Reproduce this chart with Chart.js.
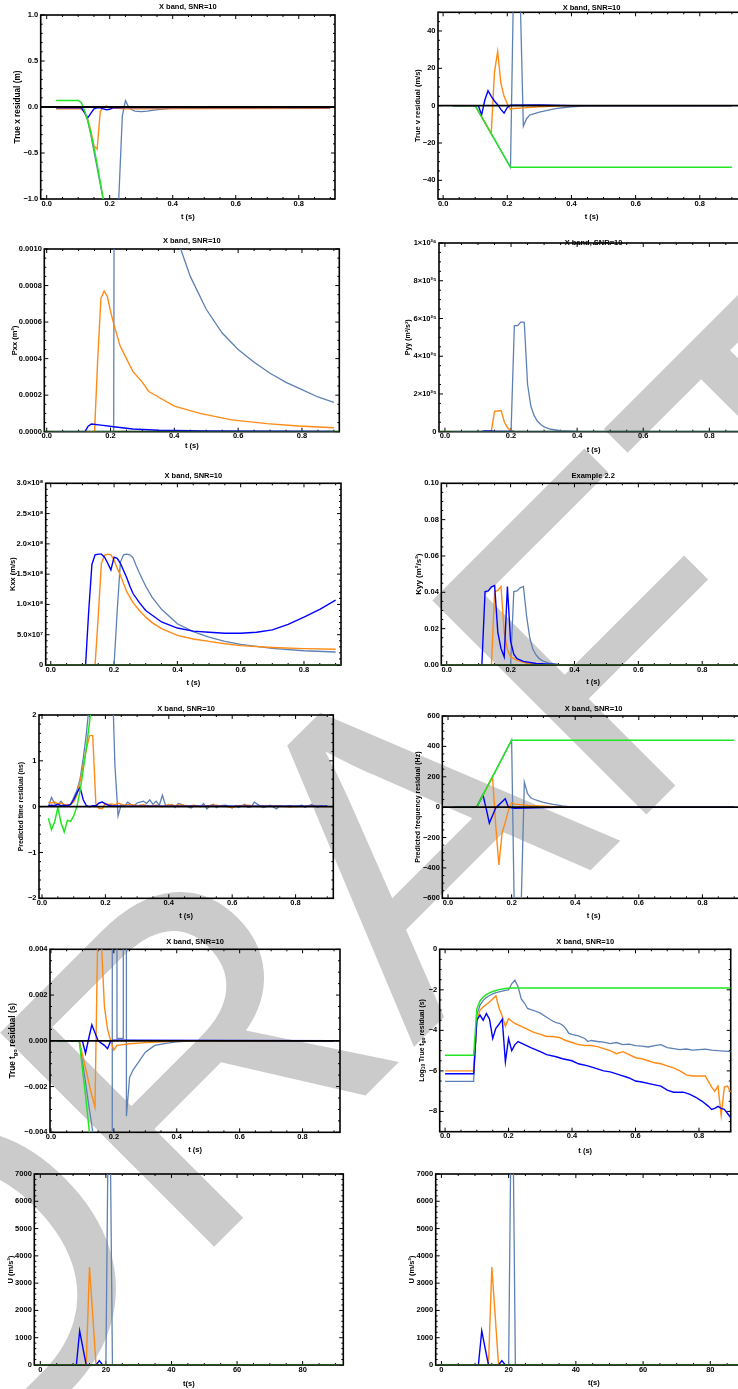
<!DOCTYPE html>
<html>
<head>
<meta charset="utf-8">
<script src="https://cdn.jsdelivr.net/npm/chart.js@4.4.1/dist/chart.umd.min.js"></script>
<style>
  html, body { margin: 0; padding: 0; background: #fff; }
  body { width: 738px; height: 1389px; position: relative; overflow: hidden; }
  #wm { position: absolute; left: 0; top: 0; z-index: 0; }
  .panel { position: absolute; z-index: 1; }
</style>
</head>
<body>
<canvas id="wm" width="738" height="1389"></canvas>
<script>
// Tracking-filter residuals, 6 x 2 grid of Chart.js line panels
// CANVAS: 738 x 1389

// ---- shared axis ticks ----
const T_TICKS = [0, 0.2, 0.4, 0.6, 0.8];
const T_TICK_LABELS = ['0.0', '0.2', '0.4', '0.6', '0.8'];
const U_T_TICKS = [0, 20, 40, 60, 80];
const U_T_TICK_LABELS = ['0', '20', '40', '60', '80'];

// ---- panel 1: true x residual (m) ----
const XRES_Y_TICKS = [-1, -0.5, 0, 0.5, 1];
const XRES_Y_LABELS = ['−1.0', '−0.5', '0.0', '0.5', '1.0'];
const XRES_BLUE = [[0.03,-0.01],[0.11,-0.01],[0.12,-0.06],[0.13,-0.12],[0.14,-0.07],[0.15,-0.02],[0.16,-0.01],[0.17,-0.01],[0.18,-0.02],[0.19,-0.03],[0.20,-0.025],[0.21,-0.01],[0.25,-0.005],[0.9,-0.005]];
const XRES_ORANGE = [[0.03,-0.02],[0.11,-0.02],[0.12,-0.06],[0.13,-0.13],[0.14,-0.26],[0.15,-0.42],[0.16,-0.46],[0.17,-0.05],[0.18,0.0],[0.19,0.01],[0.20,-0.01],[0.25,-0.02],[0.9,-0.015]];
const XRES_STEEL = [[0.03,-0.01],[0.11,-0.01],[0.12,-0.05],[0.13,-0.15],[0.14,-0.3],[0.15,-0.48],[0.16,-0.66],[0.17,-0.84],[0.18,-1.02],[0.19,-1.2],[0.20,-1.4],[0.21,-1.6],[0.22,-1.6],[0.23,-0.9],[0.24,-0.1],[0.25,0.07],[0.26,0.0],[0.27,-0.03],[0.28,-0.045],[0.30,-0.05],[0.32,-0.045],[0.34,-0.035],[0.36,-0.025],[0.38,-0.02],[0.40,-0.01],[0.9,-0.01]];
const XRES_GREEN = [[0.03,0.07],[0.10,0.07],[0.11,0.05],[0.12,-0.04],[0.13,-0.14],[0.14,-0.28],[0.15,-0.44],[0.16,-0.62],[0.17,-0.81],[0.18,-1.01],[0.19,-1.22]];

// ---- panel 2: true v residual (m/s) ----
const VRES_Y_TICKS = [-40, -20, 0, 20, 40];
const VRES_Y_LABELS = ['−40', '−20', '0', '20', '40'];
const VRES_BLUE = [[0.03,0],[0.11,0],[0.12,-5],[0.13,3],[0.14,8],[0.15,5],[0.16,2.5],[0.17,0.5],[0.18,-2],[0.19,-4],[0.20,-1],[0.21,0.3],[0.3,0.4],[0.4,0],[0.9,0]];
const VRES_ORANGE = [[0.03,0],[0.10,0],[0.11,-3],[0.12,-6],[0.13,-9],[0.14,-12],[0.15,-15],[0.16,18],[0.17,29],[0.18,12],[0.19,5],[0.20,1],[0.21,-2],[0.22,-1.5],[0.25,-1.2],[0.3,-0.6],[0.35,-0.2],[0.4,0],[0.9,0]];
const VRES_STEEL = [[0.03,0],[0.10,0],[0.21,-33],[0.22,70],[0.23,90],[0.24,60],[0.25,-11],[0.26,-7],[0.27,-5],[0.28,-4.5],[0.3,-3.5],[0.35,-1.6],[0.4,-0.6],[0.45,-0.1],[0.9,0]];
const VRES_GREEN = [[0.03,0],[0.10,0],[0.21,-33],[0.9,-33]];

// ---- panel 3: Pxx (m^2) ----
const PXX_Y_TICKS = [0, 0.0002, 0.0004, 0.0006, 0.0008, 0.001];
const PXX_Y_LABELS = ['0.0000', '0.0002', '0.0004', '0.0006', '0.0008', '0.0010'];
const PXX_BLUE = [[0.02,0],[0.12,0],[0.13,0.00003],[0.14,0.000042],[0.17,0.000036],[0.21,0.000027],[0.27,0.000015],[0.35,0.000008],[0.5,0.000004],[0.9,0.000002]];
const PXX_ORANGE = [[0.02,0],[0.15,0],[0.16,0.0004],[0.17,0.00073],[0.18,0.00077],[0.19,0.00074],[0.20,0.00066],[0.21,0.00059],[0.23,0.00047],[0.25,0.0004],[0.27,0.00033],[0.30,0.00027],[0.32,0.00022],[0.35,0.00019],[0.40,0.00014],[0.48,0.0001],[0.58,0.000065],[0.69,0.000044],[0.79,0.000031],[0.9,0.000022]];
const PXX_STEEL = [[0.02,0],[0.21,0],[0.22,0.01],[0.30,0.003],[0.35,0.0018],[0.40,0.0012],[0.42,0.001],[0.45,0.00085],[0.50,0.00067],[0.55,0.00054],[0.60,0.00045],[0.65,0.00038],[0.70,0.00032],[0.75,0.00027],[0.80,0.00023],[0.85,0.00019],[0.9,0.00016]];

// ---- panel 4: Pyy (m^2/s^2) ----
const PYY_Y_TICKS = [0, 2e25, 4e25, 6e25, 8e25, 1e26];
const PYY_Y_LABELS = ['0', '2×10²⁵', '4×10²⁵', '6×10²⁵', '8×10²⁵', '1×10²⁶'];
const PYY_BLUE = [[0.02,0],[0.11,0],[0.12,0.04e25],[0.14,0.04e25],[0.15,0.01e25],[0.19,0.01e25],[0.20,0.03e25],[0.21,0],[0.9,0]];
const PYY_ORANGE = [[0.02,0],[0.14,0],[0.15,1.08e25],[0.16,1.1e25],[0.17,1.12e25],[0.18,0.5e25],[0.19,0.2e25],[0.20,0.06e25],[0.21,0],[0.9,0]];
const PYY_STEEL = [[0.02,0],[0.20,0],[0.21,5.62e25],[0.22,5.62e25],[0.23,5.82e25],[0.24,5.8e25],[0.25,2.5e25],[0.26,1.35e25],[0.27,0.85e25],[0.28,0.55e25],[0.29,0.38e25],[0.30,0.26e25],[0.32,0.13e25],[0.35,0.05e25],[0.40,0.01e25],[0.9,0]];

// ---- panel 5: Kxx (m/s) ----
const KXX_Y_TICKS = [0, 5e7, 1e8, 1.5e8, 2e8, 2.5e8, 3e8];
const KXX_Y_LABELS = ['0', '5.0×10⁷', '1.0×10⁸', '1.5×10⁸', '2.0×10⁸', '2.5×10⁸', '3.0×10⁸'];
const KXX_BLUE = [[0.02,0],[0.11,0],[0.12,0.9e8],[0.13,1.66e8],[0.14,1.82e8],[0.15,1.83e8],[0.16,1.83e8],[0.17,1.78e8],[0.18,1.68e8],[0.19,1.57e8],[0.20,1.78e8],[0.21,1.76e8],[0.22,1.68e8],[0.23,1.56e8],[0.24,1.44e8],[0.25,1.3e8],[0.26,1.18e8],[0.28,1.03e8],[0.30,0.9e8],[0.35,0.71e8],[0.40,0.61e8],[0.45,0.56e8],[0.50,0.54e8],[0.55,0.525e8],[0.60,0.525e8],[0.65,0.54e8],[0.70,0.58e8],[0.75,0.67e8],[0.80,0.79e8],[0.85,0.92e8],[0.9,1.07e8]];
const KXX_ORANGE = [[0.02,0],[0.14,0],[0.15,0.8e8],[0.16,1.68e8],[0.17,1.81e8],[0.18,1.83e8],[0.19,1.82e8],[0.20,1.73e8],[0.21,1.6e8],[0.22,1.48e8],[0.24,1.21e8],[0.26,1.03e8],[0.28,0.9e8],[0.30,0.79e8],[0.32,0.7e8],[0.35,0.6e8],[0.40,0.49e8],[0.45,0.43e8],[0.50,0.39e8],[0.55,0.35e8],[0.60,0.32e8],[0.70,0.29e8],[0.80,0.27e8],[0.9,0.26e8]];
const KXX_STEEL = [[0.02,0],[0.20,0],[0.21,0.9e8],[0.22,1.7e8],[0.23,1.82e8],[0.24,1.83e8],[0.25,1.82e8],[0.26,1.77e8],[0.27,1.64e8],[0.28,1.52e8],[0.30,1.3e8],[0.32,1.12e8],[0.35,0.92e8],[0.40,0.68e8],[0.45,0.55e8],[0.50,0.46e8],[0.55,0.39e8],[0.60,0.34e8],[0.70,0.275e8],[0.80,0.235e8],[0.9,0.215e8]];

// ---- panel 6: Kyy (m^2/s^2) ----
const KYY_Y_TICKS = [0, 0.02, 0.04, 0.06, 0.08, 0.1];
const KYY_Y_LABELS = ['0.00', '0.02', '0.04', '0.06', '0.08', '0.10'];
const KYY_BLUE = [[0.02,0],[0.11,0],[0.12,0.0404],[0.13,0.0408],[0.14,0.043],[0.15,0.0437],[0.16,0.018],[0.17,0.009],[0.18,0.0045],[0.19,0.0432],[0.20,0.013],[0.21,0.006],[0.22,0.0035],[0.24,0.002],[0.28,0.0008],[0.35,0.0002],[0.40,0],[0.9,0]];
const KYY_ORANGE = [[0.02,0],[0.14,0],[0.15,0.0404],[0.16,0.041],[0.17,0.0432],[0.18,0.018],[0.19,0.0085],[0.20,0.0045],[0.22,0.0025],[0.25,0.001],[0.30,0.0002],[0.35,0],[0.9,0]];
const KYY_STEEL = [[0.02,0],[0.20,0],[0.21,0.0404],[0.22,0.0408],[0.23,0.0425],[0.24,0.0432],[0.25,0.027],[0.26,0.015],[0.27,0.0085],[0.28,0.0055],[0.29,0.0035],[0.30,0.0023],[0.32,0.001],[0.35,0.0003],[0.40,0],[0.9,0]];

// ---- panel 7: predicted time residual (ns) ----
const TRES_Y_TICKS = [-2, -1, 0, 1, 2];
const TRES_Y_LABELS = ['−2', '−1', '0', '1', '2'];
const TRES_BLUE = [[0.02,0.02],[0.03,0.03],[0.04,0.02],[0.05,0.05],[0.06,0.02],[0.07,0.03],[0.08,0.02],[0.09,0.05],[0.10,0.15],[0.11,0.3],[0.12,0.42],[0.13,0.15],[0.14,0.02],[0.15,0.0],[0.16,0.02],[0.17,0.02],[0.18,0.08],[0.19,0.1],[0.20,0.06],[0.21,0.03],[0.22,0.02],[0.25,0.01],[0.9,0.01]];
const TRES_ORANGE = [[0.02,0.1],[0.03,0.08],[0.04,0.1],[0.05,0.06],[0.06,0.08],[0.07,0.05],[0.08,0.04],[0.09,0.05],[0.10,0.1],[0.11,0.25],[0.12,0.55],[0.13,0.9],[0.14,1.25],[0.15,1.55],[0.16,1.55],[0.17,0.05],[0.18,-0.04],[0.19,-0.04],[0.20,0.07],[0.21,0.05],[0.22,0.06],[0.23,0.04],[0.24,0.08],[0.25,0.05],[0.26,0.03],[0.28,0.05],[0.30,0.02],[0.32,0.04],[0.34,0.01],[0.36,0.03],[0.38,0.0],[0.40,0.05],[0.42,0.02],[0.44,0.04],[0.46,0.01],[0.48,0.03],[0.50,0.0],[0.52,0.02],[0.55,0.03],[0.58,0.0],[0.60,-0.02],[0.62,0.02],[0.65,0.03],[0.68,0.0],[0.70,0.02],[0.72,0.01],[0.75,0.02],[0.78,-0.01],[0.80,0.01],[0.82,0.0],[0.85,0.02],[0.88,0.0],[0.90,0.0]];
const TRES_STEEL = [[0.02,0.0],[0.03,0.2],[0.04,0.06],[0.05,0.05],[0.06,0.12],[0.07,0.03],[0.08,0.05],[0.09,0.04],[0.10,0.2],[0.11,0.35],[0.12,0.6],[0.13,1.05],[0.14,1.6],[0.15,2.3],[0.16,3.2],[0.20,5],[0.22,3.2],[0.23,0.9],[0.24,-0.2],[0.25,0.05],[0.26,0.0],[0.27,0.1],[0.28,0.05],[0.29,0.02],[0.30,0.08],[0.31,0.1],[0.32,0.12],[0.33,0.07],[0.34,0.15],[0.35,0.05],[0.36,0.12],[0.37,0.03],[0.38,0.25],[0.39,0.02],[0.40,0.0],[0.41,0.05],[0.42,-0.02],[0.43,0.07],[0.44,0.05],[0.45,0.02],[0.46,0.0],[0.47,-0.03],[0.48,0.02],[0.50,0.0],[0.51,0.07],[0.52,-0.05],[0.53,0.02],[0.54,0.05],[0.55,-0.02],[0.56,0.02],[0.58,0.03],[0.60,-0.03],[0.61,0.02],[0.62,-0.02],[0.64,0.05],[0.65,-0.02],[0.66,0.0],[0.67,0.1],[0.68,0.05],[0.69,0.0],[0.70,-0.02],[0.72,0.03],[0.74,-0.05],[0.75,0.02],[0.76,0.0],[0.78,0.02],[0.80,0.0],[0.82,0.03],[0.83,-0.02],[0.85,0.05],[0.86,0.02],[0.87,-0.02],[0.88,0.02],[0.89,0.0],[0.90,0.02]];
const TRES_GREEN = [[0.02,-0.25],[0.03,-0.5],[0.04,-0.33],[0.05,-0.02],[0.06,-0.35],[0.07,-0.55],[0.08,-0.3],[0.09,-0.32],[0.10,-0.2],[0.11,0.0],[0.12,0.35],[0.13,0.8],[0.14,1.3],[0.15,1.85],[0.16,2.5]];

// ---- panel 8: predicted frequency residual (Hz) ----
const FRES_Y_TICKS = [-600, -400, -200, 0, 200, 400, 600];
const FRES_Y_LABELS = ['−600', '−400', '−200', '0', '200', '400', '600'];
const FRES_BLUE = [[0.02,0],[0.09,0],[0.10,40],[0.11,80],[0.12,-10],[0.13,-105],[0.14,-55],[0.15,-5],[0.16,15],[0.17,35],[0.18,55],[0.19,0],[0.20,-5],[0.21,-8],[0.30,-3],[0.40,0],[0.9,0]];
const FRES_ORANGE = [[0.02,0],[0.09,0],[0.14,200],[0.15,-120],[0.16,-380],[0.17,-170],[0.18,-100],[0.19,-20],[0.20,30],[0.21,20],[0.25,12],[0.30,6],[0.35,2],[0.40,0],[0.9,0]];
const FRES_STEEL = [[0.02,0],[0.09,0],[0.20,441],[0.21,-900],[0.22,-1000],[0.23,-650],[0.24,165],[0.25,90],[0.26,62],[0.27,52],[0.28,45],[0.30,32],[0.33,18],[0.36,9],[0.38,4],[0.40,0],[0.9,0]];
const FRES_GREEN = [[0.02,0],[0.09,0],[0.20,441],[0.9,441]];

// ---- panel 9: true t_go residual (s) ----
const TGO_Y_TICKS = [-0.004, -0.002, 0, 0.002, 0.004];
const TGO_Y_LABELS = ['−0.004', '−0.002', '0.000', '0.002', '0.004'];
const TGO_BLUE = [[0.02,0],[0.10,0],[0.11,-0.00055],[0.12,0.0001],[0.13,0.0007],[0.14,0.00035],[0.15,0.0],[0.16,-0.0001],[0.17,-0.0002],[0.18,-0.00035],[0.19,0.0],[0.20,0.00003],[0.9,0]];
const TGO_ORANGE = [[0.02,0],[0.09,0],[0.10,-0.0006],[0.11,-0.0012],[0.12,-0.0018],[0.13,-0.0024],[0.14,-0.0029],[0.15,0.0058],[0.16,0.0044],[0.17,0.0015],[0.18,0.0005],[0.19,0.0],[0.20,-0.0004],[0.21,-0.0002],[0.25,-0.00013],[0.30,-0.00008],[0.35,-0.00004],[0.40,-0.00001],[0.45,0],[0.9,0]];
const TGO_STEEL = [[0.02,0],[0.09,0],[0.10,-0.0009],[0.11,-0.0018],[0.12,-0.0028],[0.13,-0.0037],[0.14,-0.0047],[0.19,-0.3],[0.20,0.3],[0.21,0.0001],[0.23,0.0001],[0.235,0.3],[0.24,-0.0033],[0.25,-0.0016],[0.26,-0.0013],[0.28,-0.0009],[0.30,-0.0005],[0.33,-0.0002],[0.37,-0.0001],[0.40,-0.00005],[0.45,0],[0.9,0]];
const TGO_GREEN = [[0.02,0],[0.09,0],[0.10,-0.0012],[0.11,-0.0024],[0.12,-0.0037],[0.13,-0.005]];

// ---- panel 10: log10 true t_go residual (s) ----
const LTGO_Y_TICKS = [-8, -6, -4, -2, 0];
const LTGO_Y_LABELS = ['−8', '−6', '−4', '−2', '0'];
const LTGO_BLUE = [[0.0,-6.14],[0.09,-6.14],[0.10,-3.5],[0.11,-3.25],[0.12,-3.5],[0.13,-3.17],[0.14,-3.45],[0.15,-4.4],[0.16,-3.9],[0.17,-3.7],[0.18,-3.45],[0.19,-5.55],[0.20,-4.4],[0.21,-5.0],[0.22,-4.7],[0.23,-4.55],[0.25,-4.7],[0.27,-4.85],[0.30,-5.05],[0.32,-5.2],[0.35,-5.3],[0.37,-5.4],[0.40,-5.5],[0.42,-5.65],[0.45,-5.75],[0.48,-5.9],[0.50,-6.0],[0.52,-6.05],[0.55,-6.2],[0.58,-6.35],[0.60,-6.5],[0.62,-6.55],[0.65,-6.65],[0.68,-6.75],[0.70,-6.95],[0.72,-7.05],[0.75,-7.05],[0.77,-7.15],[0.79,-7.3],[0.81,-7.5],[0.83,-7.75],[0.84,-7.9],[0.85,-7.85],[0.86,-7.75],[0.87,-7.85],[0.88,-7.9],[0.89,-8.1],[0.90,-8.3]];
const LTGO_ORANGE = [[0.0,-6.0],[0.09,-6.0],[0.10,-3.58],[0.11,-3.0],[0.12,-2.85],[0.13,-2.72],[0.14,-2.6],[0.15,-2.45],[0.16,-2.3],[0.17,-2.9],[0.18,-3.3],[0.19,-3.8],[0.20,-3.42],[0.21,-3.55],[0.22,-3.65],[0.24,-3.8],[0.26,-3.95],[0.28,-4.1],[0.30,-4.2],[0.32,-4.3],[0.34,-4.3],[0.36,-4.35],[0.38,-4.5],[0.40,-4.6],[0.42,-4.7],[0.44,-4.75],[0.46,-4.75],[0.48,-4.8],[0.50,-4.9],[0.52,-5.0],[0.54,-5.15],[0.56,-5.05],[0.58,-5.2],[0.60,-5.35],[0.62,-5.4],[0.64,-5.5],[0.66,-5.6],[0.68,-5.65],[0.70,-5.75],[0.72,-5.85],[0.74,-6.0],[0.76,-6.2],[0.78,-6.25],[0.80,-6.25],[0.82,-6.25],[0.84,-6.8],[0.85,-7.0],[0.86,-6.75],[0.87,-8.2],[0.88,-6.8],[0.89,-6.75],[0.90,-7.05]];
const LTGO_STEEL = [[0.0,-6.52],[0.09,-6.52],[0.10,-3.25],[0.11,-2.75],[0.12,-2.52],[0.13,-2.38],[0.14,-2.28],[0.15,-2.2],[0.16,-2.14],[0.17,-2.1],[0.18,-2.06],[0.19,-2.03],[0.20,-2.0],[0.21,-1.7],[0.22,-1.52],[0.23,-1.85],[0.24,-2.45],[0.25,-2.65],[0.26,-2.92],[0.27,-2.98],[0.28,-3.02],[0.30,-3.15],[0.32,-3.35],[0.34,-3.55],[0.35,-3.62],[0.36,-3.65],[0.37,-3.75],[0.38,-3.9],[0.39,-4.15],[0.40,-4.2],[0.42,-4.27],[0.44,-4.4],[0.45,-4.55],[0.46,-4.5],[0.48,-4.55],[0.50,-4.58],[0.52,-4.65],[0.54,-4.6],[0.56,-4.7],[0.58,-4.68],[0.60,-4.75],[0.62,-4.78],[0.64,-4.82],[0.66,-4.75],[0.68,-4.7],[0.70,-4.85],[0.72,-4.9],[0.74,-4.95],[0.76,-4.92],[0.78,-4.97],[0.80,-4.95],[0.82,-4.93],[0.84,-4.97],[0.86,-5.0],[0.88,-5.02],[0.90,-5.05]];
const LTGO_GREEN = [[0.0,-5.23],[0.09,-5.23],[0.10,-2.95],[0.11,-2.55],[0.12,-2.36],[0.13,-2.24],[0.14,-2.15],[0.15,-2.08],[0.16,-2.03],[0.17,-1.99],[0.18,-1.96],[0.19,-1.94],[0.20,-1.92],[0.21,-1.91],[0.9,-1.91]];

// ---- panels 11 & 12: U (m/s^2) ----
const U_Y_TICKS = [0, 1000, 2000, 3000, 4000, 5000, 6000, 7000];
const U_Y_LABELS = ['0', '1000', '2000', '3000', '4000', '5000', '6000', '7000'];
const U_BLUE = [[0,0],[11,0],[12,1250],[13,620],[14,0],[17,0],[18,160],[19,0],[90,0]];
const U_ORANGE = [[0,0],[14,0],[15,3590],[16,1800],[17,0],[90,0]];
const U_STEEL = [[0,0],[20,0],[21,12500],[22,0],[90,0]];

// ---- layout (page px): plotLeft, plotTop, plotRight, plotBottom, titleY, yTitleX, xTitleY ----
const LAYOUT = [
  [40.7, 15, 335, 199, 6.7, 18.3, 216.7],
  [438, 12.3, 745, 199, 7.3, 417.3, 216.7],
  [44.3, 249, 339.3, 431.7, 240.7, 14, 445.7],
  [439, 240.7, 748, 431.7, 240.7, 408.3, 449],
  [45.7, 483.3, 341, 665, 475, 12.3, 682.7],
  [441.3, 483.3, 745, 665, 475, 419, 681.7],
  [39, 715, 333.3, 898.3, 708.3, 20.7, 915],
  [442.3, 716, 745, 898.3, 708.3, 418, 915],
  [50, 949.3, 340, 1132.3, 941.7, 13.3, 1149.3],
  [439.7, 949.3, 730.7, 1131.7, 941.7, 421.7, 1150],
  [34.3, 1174, 343.3, 1365, null, 10, 1383.3],
  [435.7, 1174, 752, 1365, null, 411.7, 1382.7]
];
const X_RANGES = [
  [-0.019, 0.915], [-0.016, 0.941], [-0.0075, 0.917], [-0.018, 0.917],
  [-0.016, 0.917], [-0.017, 0.934], [-0.0095, 0.919], [-0.018, 0.934],
  [-0.003, 0.919], [-0.017, 0.9], [-1.83, 92.4], [-1.7, 92.4]
];
// y-axis title font size per panel (the source panels were scaled differently)
const Y_TITLE_SIZES = [8.2, 7.5, 7.5, 7, 7.5, 8, 6.8, 7, 8.2, 6.8, 7.5, 7.5];

const COLORS = { blue: '#0000ff', orange: '#ff8a14', steel: '#5e81b5', green: '#22e622', dkgreen: '#24561c', black: '#000000' };
const FONT = '"Liberation Sans", Arial, sans-serif';
const FS = 7.5, LH = 9;

const TBAND = 'X band, SNR=10';
const SPECS = [
  { title: TBAND, yTitle: 'True x residual (m)', y: [-1, 1], yt: XRES_Y_TICKS, yl: XRES_Y_LABELS, yMinor: 5, zero: 'black',
    s: { steel: XRES_STEEL, orange: XRES_ORANGE, blue: XRES_BLUE, green: XRES_GREEN } },
  { title: TBAND, yTitle: 'True v residual (m/s)', y: [-50, 50], yt: VRES_Y_TICKS, yl: VRES_Y_LABELS, yMinor: 4, zero: 'black',
    s: { steel: VRES_STEEL, orange: VRES_ORANGE, blue: VRES_BLUE, green: VRES_GREEN } },
  { title: TBAND, yTitle: 'Pxx (m²)', y: [0, 0.001], yt: PXX_Y_TICKS, yl: PXX_Y_LABELS, yMinor: 4, zero: 'dkgreen',
    s: { steel: PXX_STEEL, orange: PXX_ORANGE, blue: PXX_BLUE } },
  { title: TBAND, yTitle: 'Pyy (m²/s²)', y: [0, 1e26], yt: PYY_Y_TICKS, yl: PYY_Y_LABELS, yMinor: 4, zero: 'dkgreen',
    s: { steel: PYY_STEEL, orange: PYY_ORANGE, blue: PYY_BLUE } },
  { title: TBAND, yTitle: 'Kxx (m/s)', y: [0, 3e8], yt: KXX_Y_TICKS, yl: KXX_Y_LABELS, yMinor: 5, zero: 'dkgreen',
    s: { steel: KXX_STEEL, orange: KXX_ORANGE, blue: KXX_BLUE } },
  { title: 'Example 2.2', yTitle: 'Kyy (m²/s²)', y: [0, 0.1], yt: KYY_Y_TICKS, yl: KYY_Y_LABELS, yMinor: 4, zero: 'dkgreen',
    s: { steel: KYY_STEEL, orange: KYY_ORANGE, blue: KYY_BLUE } },
  { title: TBAND, yTitle: 'Predicted time residual (ns)', y: [-2, 2], yt: TRES_Y_TICKS, yl: TRES_Y_LABELS, yMinor: 5, zero: 'black',
    s: { steel: TRES_STEEL, orange: TRES_ORANGE, blue: TRES_BLUE, green: TRES_GREEN } },
  { title: TBAND, yTitle: 'Predicted frequency residual (Hz)', y: [-600, 600], yt: FRES_Y_TICKS, yl: FRES_Y_LABELS, yMinor: 4, zero: 'black',
    s: { steel: FRES_STEEL, orange: FRES_ORANGE, blue: FRES_BLUE, green: FRES_GREEN } },
  { title: TBAND, rich: [['True t', 0], ['go', 1], [' residual (s)', 0]], y: [-0.004, 0.004], yt: TGO_Y_TICKS, yl: TGO_Y_LABELS, yMinor: 4, zero: 'black',
    s: { steel: TGO_STEEL, orange: TGO_ORANGE, blue: TGO_BLUE, green: TGO_GREEN } },
  { title: TBAND, rich: [['Log', 0], ['10', 1], [' True t', 0], ['go', 1], [' residual (s)', 0]], y: [-9, 0], yt: LTGO_Y_TICKS, yl: LTGO_Y_LABELS, yMinor: 4, zero: null,
    s: { steel: LTGO_STEEL, orange: LTGO_ORANGE, blue: LTGO_BLUE, green: LTGO_GREEN } },
  { title: null, yTitle: 'U (m/s²)', xTitle: 't(s)', u: true, y: [0, 7000], yt: U_Y_TICKS, yl: U_Y_LABELS, yMinor: 5, zero: 'dkgreen',
    s: { steel: U_STEEL, orange: U_ORANGE, blue: U_BLUE } },
  { title: null, yTitle: 'U (m/s²)', xTitle: 't(s)', u: true, y: [0, 7000], yt: U_Y_TICKS, yl: U_Y_LABELS, yMinor: 5, zero: 'dkgreen',
    s: { steel: U_STEEL, orange: U_ORANGE, blue: U_BLUE } }
];

// Mathematica-style frame with inward major/minor ticks on all four sides
const framePlugin = {
  id: 'frame',
  beforeDatasetsDraw(chart, args, o) {
    const { ctx, chartArea: a, scales } = chart;
    ctx.save();
    ctx.strokeStyle = '#000';
    ctx.lineWidth = 1;
    ['x', 'y'].forEach(k => {
      const s = scales[k];
      const tk = s.ticks.map(t => t.value);
      const sub = o.minor[k];
      const step = (tk[1] - tk[0]) / sub;
      const n0 = Math.ceil((s.min - tk[0]) / step - 1e-6);
      const n1 = Math.floor((s.max - tk[0]) / step + 1e-6);
      for (let n = n0; n <= n1; n++) {
        const len = (((n % sub) + sub) % sub === 0) ? 4 : 2;
        const p = s.getPixelForValue(tk[0] + n * step);
        ctx.beginPath();
        if (k === 'x') {
          ctx.moveTo(p, a.bottom); ctx.lineTo(p, a.bottom - len);
          ctx.moveTo(p, a.top); ctx.lineTo(p, a.top + len);
        } else {
          ctx.moveTo(a.left, p); ctx.lineTo(a.left + len, p);
          ctx.moveTo(a.right, p); ctx.lineTo(a.right - len, p);
        }
        ctx.stroke();
      }
    });
    ctx.lineWidth = 1.6;
    ctx.strokeRect(a.left, a.top, a.right - a.left, a.bottom - a.top);
    ctx.restore();
  }
};

// rotated y title with subscripts (t_go, log_10)
const richTitlePlugin = {
  id: 'richTitle',
  afterDraw(chart, args, o) {
    if (!o.parts) return;
    const { ctx, chartArea: a } = chart;
    const big = 'bold ' + o.size + 'px ' + FONT, small = 'bold ' + (o.size * 0.72) + 'px ' + FONT;
    ctx.save();
    let w = 0;
    o.parts.forEach(p => { ctx.font = p[1] ? small : big; w += ctx.measureText(p[0]).width; });
    ctx.translate(o.x, (a.top + a.bottom) / 2);
    ctx.rotate(-Math.PI / 2);
    ctx.fillStyle = '#000';
    ctx.textBaseline = 'middle';
    let x = -w / 2;
    o.parts.forEach(p => {
      ctx.font = p[1] ? small : big;
      ctx.fillText(p[0], x, p[1] ? 2 : 0);
      x += ctx.measureText(p[0]).width;
    });
    ctx.restore();
  }
};

Chart.register(framePlugin, richTitlePlugin);
Chart.defaults.font.family = FONT;
Chart.defaults.color = '#000';

function pts(arr) { return arr.map(p => ({ x: p[0], y: p[1] })); }

function lineSet(data, color, width, order) {
  return { data: pts(data), borderColor: color, borderWidth: width, pointRadius: 0, tension: 0, fill: false, order: order };
}

function buildPanel(spec, i) {
  const [L, T, R, B, titleY, yTitleX, xTitleY] = LAYOUT[i];
  const xr = X_RANGES[i];
  const yfs = Y_TITLE_SIZES[i];
  const ylh = yfs * 1.2;
  const hasTitle = !!spec.title;
  const cx = Math.round(yTitleX - ylh / 2);
  const cy = Math.round(hasTitle ? titleY - LH / 2 : T - 10);
  const width = Math.round(R + 6 - cx);
  const height = Math.round(xTitleY + LH / 2 - cy);
  const yw = L - cx;
  const xh = height - (B - cy);

  const div = document.createElement('div');
  div.className = 'panel';
  div.style.left = cx + 'px';
  div.style.top = cy + 'px';
  const cv = document.createElement('canvas');
  cv.width = width; cv.height = height;
  cv.style.width = width + 'px'; cv.style.height = height + 'px';
  div.appendChild(cv);
  document.body.appendChild(div);

  const datasets = [];
  if (spec.zero) datasets.push(lineSet([[xr[0], 0], [xr[1], 0]], COLORS[spec.zero], spec.zero === 'black' ? 1.8 : 2, 0));
  if (spec.s.green) datasets.push(lineSet(spec.s.green, COLORS.green, 1.5, 1));
  datasets.push(lineSet(spec.s.blue, COLORS.blue, 1.4, 2));
  datasets.push(lineSet(spec.s.orange, COLORS.orange, 1.4, 3));
  datasets.push(lineSet(spec.s.steel, COLORS.steel, 1.3, 4));

  const xt = spec.u ? U_T_TICKS : T_TICKS;
  const xl = spec.u ? U_T_TICK_LABELS : T_TICK_LABELS;
  const font = { size: FS, weight: 'bold', lineHeight: 1.2 };
  const yFont = { size: yfs, weight: 'bold', lineHeight: 1.2 };

  new Chart(cv.getContext('2d'), {
    type: 'line',
    data: { datasets: datasets },
    options: {
      responsive: false,
      animation: false,
      devicePixelRatio: 1,
      layout: { padding: { top: hasTitle ? 0 : T - cy, right: width - (R - cx), left: 0, bottom: 0 } },
      plugins: {
        legend: { display: false },
        tooltip: { enabled: false },
        title: {
          display: hasTitle, text: spec.title || '', fullSize: false, font: font,
          padding: { top: 0, bottom: T - cy - LH }
        },
        frame: { minor: { x: 4, y: spec.yMinor } },
        richTitle: spec.rich ? { parts: spec.rich, x: ylh / 2, size: yfs } : false
      },
      scales: {
        x: {
          type: 'linear', min: xr[0], max: xr[1],
          afterBuildTicks: s => { s.ticks = xt.map(v => ({ value: v })); },
          afterFit: s => { s.height = xh; },
          grid: { display: false, drawTicks: false },
          border: { display: false },
          ticks: { autoSkip: false, maxRotation: 0, padding: 0, font: font, callback: (v, k) => xl[k] },
          title: { display: true, text: spec.xTitle || 't (s)', font: font, padding: 0 }
        },
        y: {
          type: 'linear', min: spec.y[0], max: spec.y[1],
          afterBuildTicks: s => { s.ticks = spec.yt.map(v => ({ value: v })); },
          afterFit: s => { s.width = yw; },
          grid: { display: false, drawTicks: false },
          border: { display: false },
          ticks: { autoSkip: false, padding: 2.5, font: font, callback: (v, k) => spec.yl[k] },
          title: { display: !spec.rich, text: spec.yTitle || '', font: yFont, padding: 0 }
        }
      }
    }
  });
}

// DRAFT watermark behind the panels
function drawWatermark() {
  const ctx = document.getElementById('wm').getContext('2d');
  ctx.save();
  ctx.translate(-36, 1497);
  ctx.rotate(-Math.PI / 4);
  ctx.font = '440px ' + FONT;
  ctx.fillStyle = '#cbcbcb';
  ctx.fillText('DRAFT', 0, 0);
  ctx.restore();
}

drawWatermark();
SPECS.forEach(buildPanel);
</script>
</body>
</html>
